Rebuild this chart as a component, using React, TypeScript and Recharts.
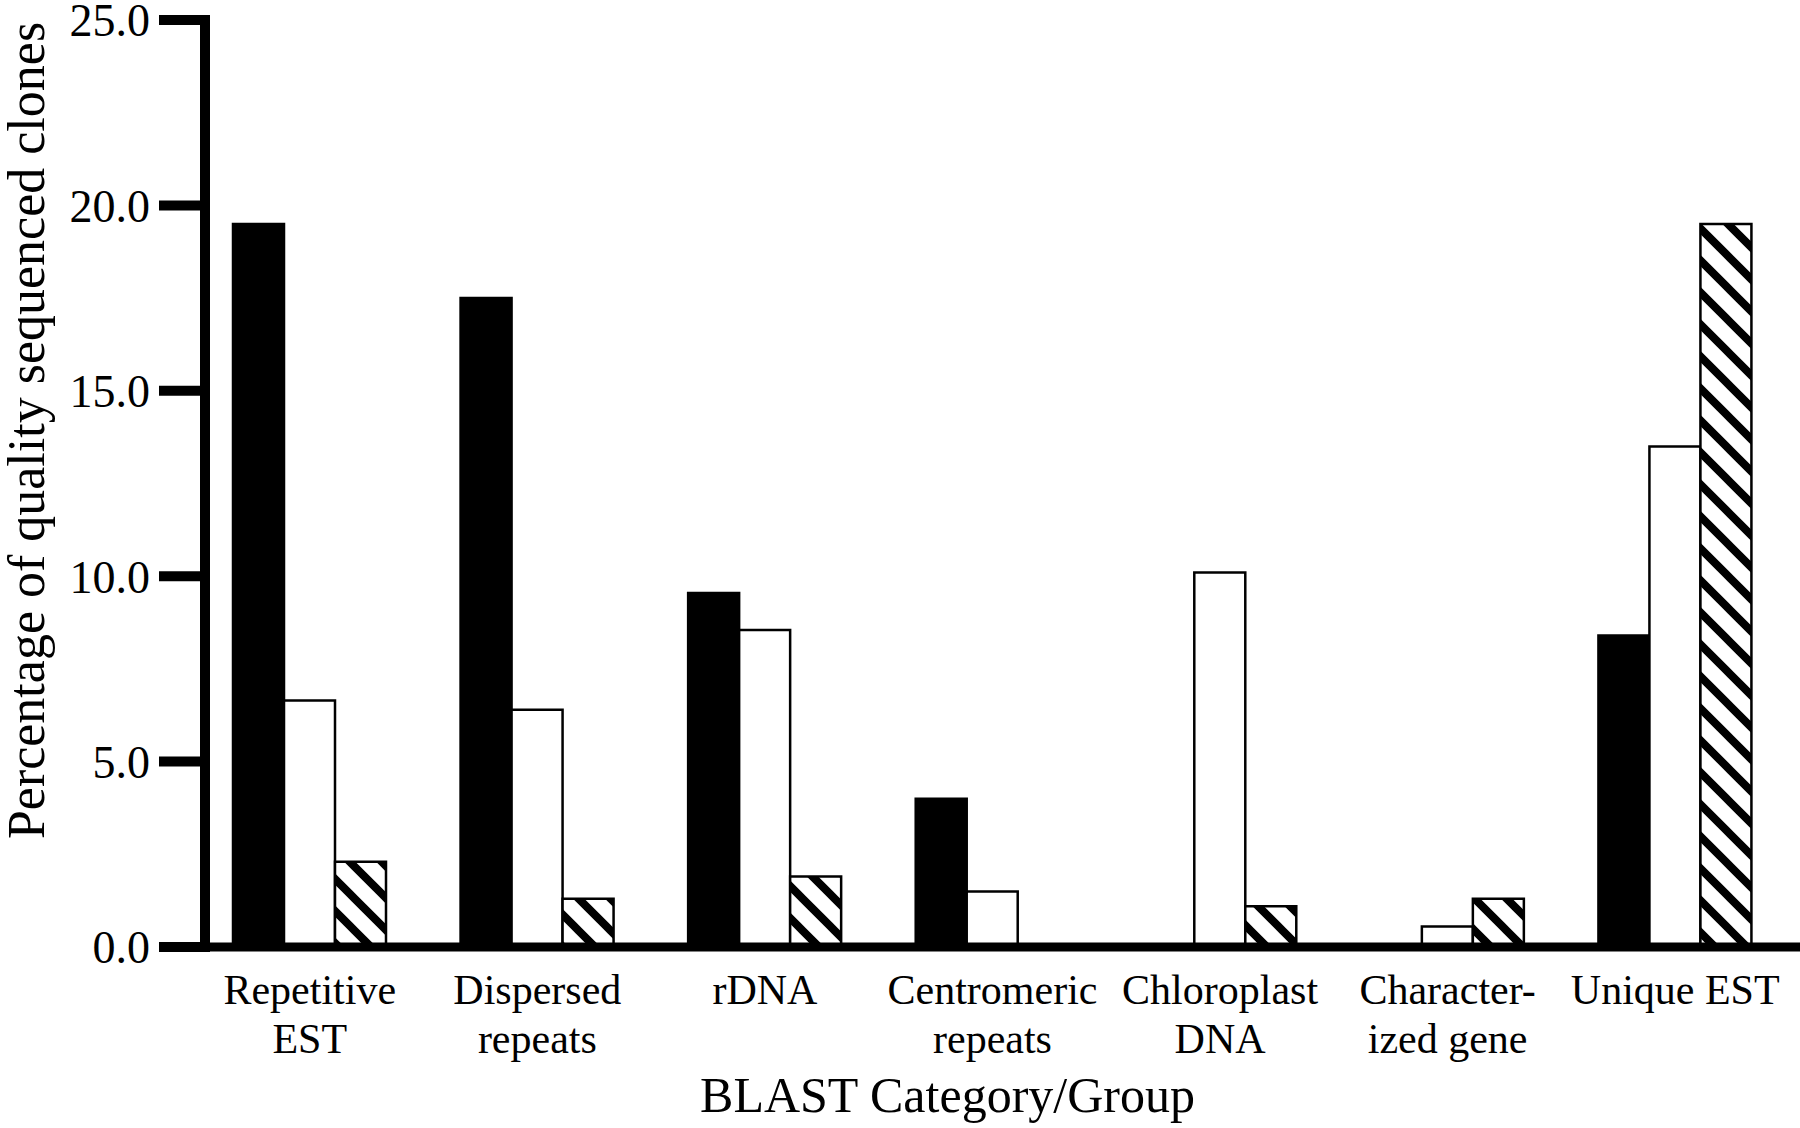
import React from 'react';
import { BarChart, Bar, XAxis, YAxis, Label } from 'recharts';

const categories = [
  'Repetitive\nEST',
  'Dispersed\nrepeats',
  'rDNA',
  'Centromeric\nrepeats',
  'Chloroplast\nDNA',
  'Character-\nized gene',
  'Unique EST',
];
const seriesBlack = [19.5, 17.5, 9.55, 4.0, 0, 0, 8.4];
const seriesWhite = [6.65, 6.4, 8.55, 1.5, 10.1, 0.55, 13.5];
const seriesHatched = [2.3, 1.3, 1.9, 0, 1.1, 1.3, 19.5];
const yTicks = [0, 5, 10, 15, 20, 25];

const data = categories.map((c, i) => ({
  category: c,
  black: seriesBlack[i],
  white: seriesWhite[i],
  hatched: seriesHatched[i],
}));

const FONT = '"Liberation Serif", "Times New Roman", serif';

const CategoryTick = (props: any) => {
  const { x, y, payload } = props;
  const lines = String(payload.value).split('\n');
  return (
    <g>
      <text x={x} y={y} textAnchor="middle" fontFamily={FONT} fontSize={42} fill="#000">
        {lines.map((l, i) => (
          <tspan key={i} x={x} dy={i === 0 ? 57 : 49}>
            {l}
          </tspan>
        ))}
      </text>
    </g>
  );
};

const YTitle = (props: any) => {
  const vb = props.viewBox || { x: 0, y: 0, height: 0 };
  const cx = vb.x + 44;
  const cy = vb.y + vb.height / 2 - 53;
  return (
    <text
      x={cx}
      y={cy}
      transform={`rotate(-90, ${cx}, ${cy})`}
      textAnchor="middle"
      fontFamily={FONT}
      fontSize={52}
      fill="#000"
    >
      Percentage of quality sequenced clones
    </text>
  );
};

const XTitle = (props: any) => {
  const vb = props.viewBox || { x: 0, y: 0, width: 0, height: 0 };
  const cx = vb.x + vb.width / 2 - 55;
  const cy = vb.y + vb.height - 16;
  return (
    <text x={cx} y={cy} textAnchor="middle" fontFamily={FONT} fontSize={50} fill="#000">
      BLAST Category/Group
    </text>
  );
};

export default function App() {
  return (
    <div style={{ position: 'absolute', left: 0, top: 0, background: '#fff' }}>
      <BarChart
        width={1800}
        height={1128}
        data={data}
        margin={{ top: 20, right: 0, bottom: 0, left: 0 }}
        barGap={0}
        barCategoryGap={37}
      >
        <defs>
          <pattern id="hatch" patternUnits="userSpaceOnUse" width={32} height={32}>
            <rect x={0} y={0} width={32} height={32} fill="#fff" />
            <path
              d="M-16,16 L16,48 M0,0 L32,32 M16,-16 L48,16"
              stroke="#000"
              strokeWidth={8}
            />
          </pattern>
        </defs>
        <XAxis
          dataKey="category"
          height={181}
          interval={0}
          padding={{ left: -9, right: 11 }}
          tickSize={0}
          tickMargin={0}
          tickLine={false}
          axisLine={{ stroke: '#000', strokeWidth: 9, strokeLinecap: 'square' }}
          tick={<CategoryTick />}
        >
          <Label content={<XTitle />} />
        </XAxis>
        <YAxis
          width={205}
          domain={[0, 25]}
          ticks={yTicks}
          interval={0}
          tickSize={46}
          tickMargin={9}
          tickFormatter={(v: number) => v.toFixed(1)}
          tickLine={{ stroke: '#000', strokeWidth: 10 }}
          axisLine={{ stroke: '#000', strokeWidth: 10, strokeLinecap: 'square' }}
          tick={{ fill: '#000', fontFamily: FONT, fontSize: 46 }}
        >
          <Label content={<YTitle />} />
        </YAxis>
        <Bar dataKey="black" fill="#000" stroke="#000" strokeWidth={2.5} barSize={51} isAnimationActive={false} />
        <Bar dataKey="white" fill="#fff" stroke="#000" strokeWidth={2.5} barSize={51} isAnimationActive={false} />
        <Bar dataKey="hatched" fill="url(#hatch)" stroke="#000" strokeWidth={2.5} barSize={51} isAnimationActive={false} />
      </BarChart>
    </div>
  );
}
